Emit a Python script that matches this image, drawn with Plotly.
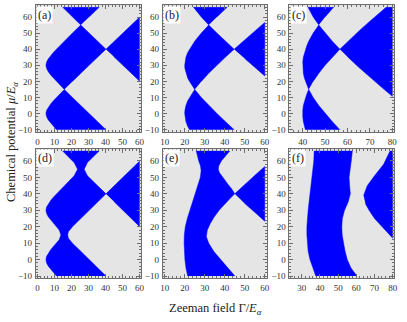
import plotly.graph_objects as go

BLUE = "#0000ff"
GRAY = "#e5e5e5"
FRAME = "#6e6e6e"
SERIF = "Liberation Serif"

# ---------- panel (a) ----------
a1_gamma = [11.2, 9.4, 7.8, 6.4, 5.4, 5.0, 5.4, 6.4, 7.8, 9.4, 11.2, 13.0, 15.8, 20.6, 30.4, 40.3]
a1_mu = [-10, -8, -6, -4, -2, 0, 2, 4, 6, 8, 10, 12, 15, 10, 0, -10]
a2_gamma = [15.8, 13.0, 11.2, 9.4, 7.8, 6.4, 5.4, 5.0, 5.4, 6.4, 7.8, 9.4, 11.2, 13.0, 15.8, 20.6, 25.5,
            30.4, 35.4, 40.3, 30.4, 20.6]
a2_mu = [15, 18, 20, 22, 24, 26, 28, 30, 32, 34, 36, 38, 40, 42, 45, 50, 55, 50, 45, 40, 30, 20]
a3_gamma = [40.3, 45.0, 50.0, 60.0, 60.0, 50.0, 45.0]
a3_mu = [40, 44.7, 49.7, 59.8, 20.2, 30.3, 35.3]
a4_gamma = [25.5, 20.6, 14.9, 36.3, 30.4]
a4_mu = [55, 60, 66, 66, 60]

# ---------- panel (b) ----------
b1_gamma = [22.4, 21.5, 20.6, 20.1, 20.0, 20.1, 20.6, 21.5, 22.4, 23.3, 25.0, 28.3, 32.0, 36.1, 40.3, 44.7]
b1_mu = [-10, -8, -5, -2, 0, 2, 5, 8, 10, 12, 15, 10, 5, 0, -5, -10]
b2_gamma = [25.0, 23.3, 22.4, 21.5, 20.6, 20.1, 20.0, 20.1, 20.6, 21.5, 22.4, 23.3, 25.0, 28.3, 32.0,
            36.1, 40.3, 44.7, 40.3, 36.1, 32.0, 28.3]
b2_mu = [15, 18, 20, 22, 25, 28, 30, 32, 35, 38, 40, 42, 45, 50, 55, 50, 45, 40, 35, 30, 25, 20]
b3_gamma = [44.7, 50.0, 55.0, 60.0, 60.0, 55.0, 50.0]
b3_mu = [40, 45.8, 51.2, 56.6, 23.4, 28.8, 34.2]
b4_gamma = [32.0, 28.3, 24.4, 41.2, 36.1]
b4_mu = [55, 60, 66, 66, 60]

# ---------- panel (c) ----------
c1_gamma = [41.2, 40.8, 40.3, 40.05, 40.0, 40.05, 40.3, 40.8, 41.2, 41.8, 42.7, 44.7, 47.2, 50.0, 53.2, 56.6]
c1_mu = [-10, -8, -5, -2, 0, 2, 5, 8, 10, 12, 15, 10, 5, 0, -5, -10]
c2_gamma = [42.7, 41.8, 41.2, 40.8, 40.3, 40.05, 40.0, 40.05, 40.3, 40.8, 41.2, 41.8, 42.7, 44.7, 47.2,
            50.0, 53.2, 56.6, 53.2, 50.0, 47.2, 44.7]
c2_mu = [15, 18, 20, 22, 25, 28, 30, 32, 35, 38, 40, 42, 45, 50, 55, 50, 45, 40, 35, 30, 25, 20]
c3_gamma = [56.6, 60.0, 65.0, 70.0, 75.0, 77.2, 80.0, 80.0, 75.0, 70.0, 65.0, 60.0]
c3_mu = [40, 44.7, 51.2, 57.4, 63.4, 66, 66, 10.7, 16.6, 22.6, 28.8, 35.3]
c4_gamma = [47.2, 44.7, 42.4, 53.8, 50.0]
c4_mu = [55, 60, 66, 66, 60]

# ---------- panel (d) ----------
d1_gamma = [11.2, 9.4, 7.8, 6.4, 5.4, 5.0, 5.4, 6.4, 7.8, 9.4, 11.2, 12.8, 13.8, 12.8, 11.2, 9.4, 7.8,
            6.4, 5.4, 5.0, 5.4, 6.4, 7.8, 9.4, 11.2, 13.0, 15.8, 18.7, 21.6, 23.6, 21.6, 18.7, 14.9,
            36.3, 32.4, 29.4, 27.5, 29.4, 32.4, 35.4, 40.3, 35.4, 30.4, 25.5, 20.6, 18.2, 17.8,
            18.2, 20.6, 25.5, 30.4, 35.4, 40.3]
d1_mu = [-10, -8, -6, -4, -2, 0, 2, 4, 6, 8, 10, 12, 15, 18, 20, 22, 24,
         26, 28, 30, 32, 34, 36, 38, 40, 42, 45, 48, 51, 55, 59, 62, 66,
         66, 62, 59, 55, 51, 48, 45, 40, 35, 30, 25, 20, 17, 15,
         13, 10, 5, 0, -5, -10]
d3_gamma = [40.3, 45.0, 50.0, 60.0, 60.0, 50.0, 45.0]
d3_mu = [40, 44.7, 49.7, 59.8, 20.2, 30.3, 35.3]

# ---------- panel (e) ----------
e1_gamma = [21.5, 20.6, 20.1, 19.8, 19.7, 19.8, 20.3, 21.3, 22.6, 24.0, 25.5, 26.8, 27.8, 28.2, 27.9,
            27.0, 26.3, 25.8, 42.5, 40.3, 38.3, 37.0, 36.8, 37.3, 39.0, 41.5, 43.5, 45.0, 42.5,
            40.0, 37.2, 34.8, 32.8, 31.3, 30.8, 32.0, 34.5, 38.0, 41.5, 45.1]
e1_mu = [-10, -5, 0, 5, 10, 15, 20, 25, 30, 35, 40, 45, 50, 54, 57,
         60, 63, 66, 66, 63, 60, 57, 55, 53, 50, 46, 43, 40, 37,
         34, 30, 26, 22, 18, 14, 10, 5, 0, -5, -10]
e3_gamma = [45.0, 50.0, 55.0, 60.0, 60.0, 55.0, 50.0]
e3_mu = [40, 45.8, 51.2, 56.6, 23.4, 28.8, 34.2]

# ---------- panel (f) ----------
f1_gamma = [37.7, 36.0, 34.5, 33.5, 33.0, 32.8, 32.8, 33.0, 33.5, 34.0, 34.6, 35.2, 35.8, 36.3, 36.6,
            36.8, 57.8, 57.2, 56.5, 56.0, 56.3, 56.7, 55.5, 53.5, 52.3, 52.0, 52.2, 52.8, 53.8,
            55.0, 57.0, 60.3]
f1_mu = [-10, -5, 0, 5, 10, 15, 20, 25, 30, 35, 40, 45, 50, 55, 60,
         66, 66, 60, 55, 50, 45, 40, 35, 30, 25, 20, 15, 10, 5,
         0, -5, -10]
f3_gamma = [64.0, 66.0, 70.0, 75.0, 78.5, 80.0, 80.0, 75.0, 70.0, 67.0, 65.0]
f3_mu = [39, 45, 51, 58, 66, 66, 13, 19, 25, 30, 34]

panel_letters = ["(a)", "(b)", "(c)", "(d)", "(e)", "(f)"]
x_ranges = [(-0.9, 60.9), (9.0, 61.0), (34.1, 80.9), (-0.9, 60.9), (9.0, 61.0), (23.2, 80.9)]
y_range = (-11.3, 67.5)

regions = [
    [(a1_gamma, a1_mu), (a2_gamma, a2_mu), (a3_gamma, a3_mu), (a4_gamma, a4_mu)],
    [(b1_gamma, b1_mu), (b2_gamma, b2_mu), (b3_gamma, b3_mu), (b4_gamma, b4_mu)],
    [(c1_gamma, c1_mu), (c2_gamma, c2_mu), (c3_gamma, c3_mu), (c4_gamma, c4_mu)],
    [(d1_gamma, d1_mu), (d3_gamma, d3_mu)],
    [(e1_gamma, e1_mu), (e3_gamma, e3_mu)],
    [(f1_gamma, f1_mu), (f3_gamma, f3_mu)],
]

col_dom = [(0.0843, 0.3457), (0.3998, 0.6585), (0.715, 0.976)]
row_dom = [(0.587, 0.9845), (0.128, 0.534)]

fig = go.Figure()
layout = {}
for i, polys in enumerate(regions):
    r, c = divmod(i, 3)
    n = "" if i == 0 else str(i + 1)
    for g, m in polys:
        fig.add_trace(go.Scatter(
            x=g, y=m, mode="lines", fill="toself", fillcolor=BLUE,
            line=dict(color=BLUE, width=0.5), hoverinfo="skip", showlegend=False,
            xaxis="x" + n, yaxis="y" + n))
    axis_common = dict(
        showline=True, linecolor=FRAME, linewidth=1, mirror="ticks",
        ticks="inside", ticklen=4, tickcolor=FRAME, showgrid=False, zeroline=False,
        tickfont=dict(family=SERIF, size=9, color="#333333"), dtick=10,
        minor=dict(ticks="inside", ticklen=2, tickcolor=FRAME, dtick=2, showgrid=False))
    layout["xaxis" + n] = dict(axis_common, domain=col_dom[c], range=x_ranges[i],
                               anchor="y" + n, tick0=0, ticklabelstandoff=1)
    layout["yaxis" + n] = dict(axis_common, domain=row_dom[r], range=y_range,
                               anchor="x" + n, tick0=0, ticklabelstandoff=1)
    fig.add_annotation(text=panel_letters[i], xref="x" + n + " domain", yref="y" + n + " domain",
                       x=0.005, y=0.995, xanchor="left", yanchor="top", showarrow=False,
                       bgcolor="white", borderpad=1,
                       font=dict(family=SERIF, size=12, color="#222222"))

fig.add_annotation(text="Zeeman field Γ/<i>E</i><sub><i>α</i></sub>", xref="paper", yref="paper",
                   x=0.53, y=0.0, xanchor="center", yanchor="bottom", showarrow=False,
                   font=dict(family=SERIF, size=12.5, color="#222222"))
fig.add_annotation(text="Chemical potential <i>μ</i>/<i>E</i><sub><i>α</i></sub>", xref="paper",
                   yref="paper", x=0.025, y=0.555, textangle=-90, xanchor="center", yanchor="middle",
                   showarrow=False, font=dict(family=SERIF, size=12.5, color="#222222"))

fig.update_layout(layout)
fig.update_layout(width=407, height=322, margin=dict(l=0, r=0, t=0, b=0),
                  paper_bgcolor="white", plot_bgcolor=GRAY)
fig.write_html("out.html", config={"displayModeBar": False},
               post_script="document.body.style.margin='0';")
